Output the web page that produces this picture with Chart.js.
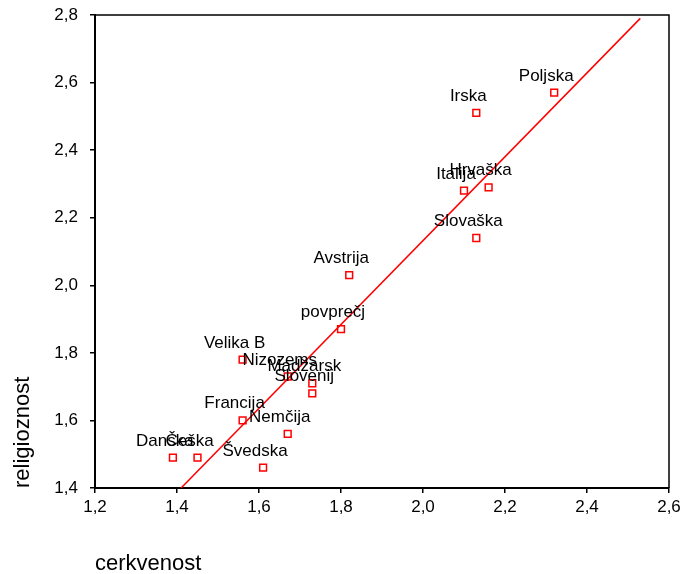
<!DOCTYPE html>
<html>
<head>
<meta charset="utf-8">
<script src="https://cdn.jsdelivr.net/npm/chart.js@4.4.0/dist/chart.umd.min.js"></script>
<style>
    html, body { margin: 0; padding: 0; background: #fff; }
</style>
</head>
<body>
<canvas id="chart" width="681" height="574"></canvas>
<script>
// --- Data ---
const countries = ["Poljska", "Irska", "Italija", "Hrvaška", "Slovaška", "Avstrija", "povprečj", "Velika B",
    "Nizozems", "Madžarsk", "Slovenij", "Francija", "Nemčija", "Danska", "Češka", "Švedska"];
const cerkvenost = [2.32, 2.13, 2.10, 2.16, 2.13, 1.82, 1.80, 1.56, 1.67, 1.73, 1.73, 1.56, 1.67, 1.39, 1.45, 1.61];
const religioznost = [2.57, 2.51, 2.28, 2.29, 2.14, 2.03, 1.87, 1.78, 1.73, 1.71, 1.68, 1.60, 1.56, 1.49, 1.49, 1.46];

// fitted line (end points)
const fitX = [1.41, 2.53];
const fitY = [1.40, 2.79];

const xTicks = [1.2, 1.4, 1.6, 1.8, 2.0, 2.2, 2.4, 2.6];
const yTicks = [1.4, 1.6, 1.8, 2.0, 2.2, 2.4, 2.6, 2.8];

const xTitle = "cerkvenost";
const yTitle = "religioznost";

const FONT = '"Liberation Sans", Arial, Helvetica, sans-serif';
Chart.defaults.font.family = FONT;
Chart.defaults.color = '#000';

function fmt(v) {
    return Number(v).toFixed(1).replace('.', ',');
}

// --- Labels, frame and axis titles ---
const extras = {
    id: 'extras',
    afterDatasetsDraw(chart) {
        const ctx = chart.ctx;
        const meta = chart.getDatasetMeta(0);
        ctx.save();
        ctx.font = '17px ' + FONT;
        ctx.fillStyle = '#000';
        ctx.textAlign = 'center';
        ctx.textBaseline = 'alphabetic';
        meta.data.forEach((pt, i) => {
            ctx.fillText(countries[i], pt.x - 8, pt.y - 12);
        });
        ctx.restore();
    },
    afterDraw(chart) {
        const ctx = chart.ctx;
        const a = chart.chartArea;
        ctx.save();
        // top + right frame
        ctx.strokeStyle = '#000';
        ctx.lineWidth = 1.5;
        ctx.beginPath();
        ctx.moveTo(a.left, a.top);
        ctx.lineTo(a.right, a.top);
        ctx.lineTo(a.right, a.bottom);
        ctx.stroke();

        // axis titles
        ctx.font = '22px ' + FONT;
        ctx.fillStyle = '#000';
        ctx.textAlign = 'left';
        ctx.textBaseline = 'alphabetic';
        ctx.fillText(xTitle, a.left, 570);

        ctx.translate(29, a.bottom);
        ctx.rotate(-Math.PI / 2);
        ctx.fillText(yTitle, 0, 0);
        ctx.restore();
    }
};

const ctx = document.getElementById('chart').getContext('2d');

new Chart(ctx, {
    type: 'scatter',
    data: {
        datasets: [
            {
                data: cerkvenost.map((x, i) => ({ x: x, y: religioznost[i] })),
                pointStyle: 'rect',
                pointRadius: 4.8,
                borderColor: '#ff0000',
                borderWidth: 1.5,
                backgroundColor: 'rgba(255,255,255,0)'
            },
            {
                data: fitX.map((x, i) => ({ x: x, y: fitY[i] })),
                showLine: true,
                borderColor: '#ff0000',
                borderWidth: 1.5,
                pointRadius: 0,
                fill: false
            }
        ]
    },
    options: {
        responsive: false,
        animation: false,
        devicePixelRatio: 1,
        layout: { padding: { top: 15, right: 12, left: 0, bottom: 0 } },
        plugins: {
            legend: { display: false },
            tooltip: { enabled: false }
        },
        scales: {
            x: {
                type: 'linear',
                min: 1.2,
                max: 2.6,
                afterBuildTicks: s => { s.ticks = xTicks.map(v => ({ value: v })); },
                afterFit: s => { s.height = 86; s.paddingLeft = 0; s.paddingRight = 0; },
                grid: { drawOnChartArea: false, drawTicks: true, tickLength: 5, tickColor: '#000', lineWidth: 1.5 },
                border: { color: '#000', width: 2 },
                ticks: { font: { size: 17 }, padding: 4, maxRotation: 0, autoSkip: false, callback: v => fmt(v) }
            },
            y: {
                type: 'linear',
                min: 1.4,
                max: 2.8,
                afterBuildTicks: s => { s.ticks = yTicks.map(v => ({ value: v })); },
                afterFit: s => { s.width = 95; s.paddingTop = 0; s.paddingBottom = 0; },
                grid: { drawOnChartArea: false, drawTicks: true, tickLength: 5, tickColor: '#000', lineWidth: 1.5 },
                border: { color: '#000', width: 2 },
                ticks: { font: { size: 17 }, padding: 12, autoSkip: false, callback: v => fmt(v) }
            }
        }
    },
    plugins: [extras]
});
</script>
</body>
</html>
